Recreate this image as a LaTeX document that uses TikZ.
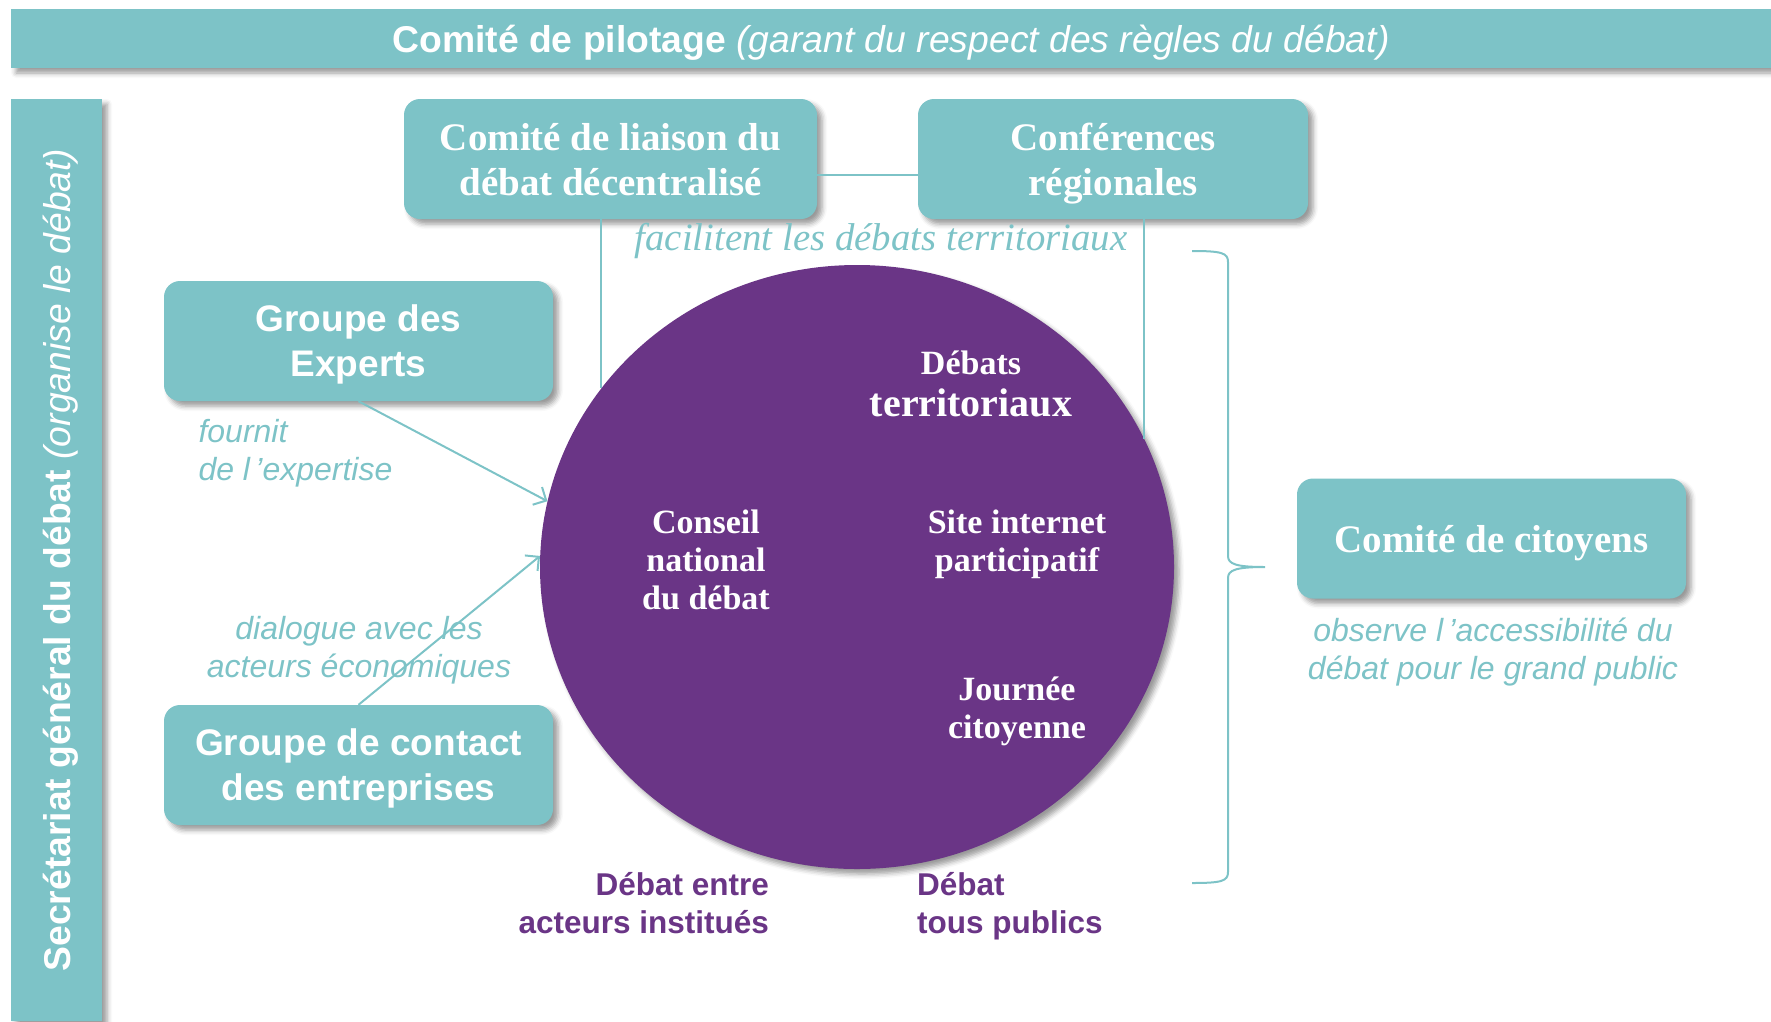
\documentclass[tikz,border=0pt]{standalone}
\usepackage{fontspec}
\setmainfont{Liberation Serif}
\setsansfont{Liberation Sans}
\usetikzlibrary{shapes.geometric,arrows.meta,shadows.blur}
\definecolor{cteal}{HTML}{7DC3C7}
\definecolor{cpurple}{HTML}{6A3586}
\tikzset{%
  shade/.style={blur shadow={shadow xshift=5pt, shadow yshift=-5pt, shadow blur radius=5pt, shadow opacity=40}},
  bar/.style={rectangle, fill=cteal, text=white, inner sep=0pt, text depth=-2pt, shade,
    font=\sffamily\fontsize{37.3}{45}\selectfont},
  box/.style={rectangle, rounded corners=16pt, fill=cteal, text=white, align=center,
    minimum width=389pt, minimum height=120pt, inner sep=0pt, text depth=-2pt, shade},
  serifbox/.style={box, font=\bfseries\fontsize{39}{45}\selectfont},
  sansbox/.style={box, font=\sffamily\bfseries\fontsize{37}{45}\selectfont},
  inner/.style={text=white, align=center, font=\bfseries\fontsize{34}{38}\selectfont},
  note/.style={text=cteal, align=center, font=\sffamily\itshape\fontsize{32}{38}\selectfont},
  public/.style={text=cpurple, font=\sffamily\bfseries\fontsize{31.5}{38}\selectfont},
  link/.style={draw=cteal, line width=2pt},
}
\begin{document}
\begin{tikzpicture}[x=1pt, y=-1pt]
  \useasboundingbox (0,0) rectangle (1771,1021);
  % bandeaux
  \node[bar, minimum width=1760pt, minimum height=59pt] (pilotage) at (891,38.5)
    {\textbf{Comité de pilotage} \textit{(garant du respect des règles du débat)}};
  \node[bar, rotate=90, minimum width=922pt, minimum height=91pt] (secretariat) at (56.5,560)
    {\textbf{Secrétariat général du débat} \textit{(organise le débat)}};
  % cercle central
  \node[ellipse, fill=cpurple, minimum width=634pt, minimum height=604pt, inner sep=0pt, shade] (debat) at (857,567) {};
  \node[inner] (territ) at (971,384) {Débats\\[4pt]{\fontsize{40}{42}\selectfont territoriaux}};
  \node[inner] (conseil) at (706,560) {Conseil\\national\\du débat};
  \node[inner] (site) at (1017,544.5) {Site internet\\participatif};
  \node[inner] (journee) at (1017,711.5) {Journée\\citoyenne};
  % boites
  \node[serifbox, minimum width=413pt] (liaison) at (610.5,159) {Comité de liaison du\\débat décentralisé};
  \node[serifbox, minimum width=390pt] (regions) at (1113,159) {Conférences\\régionales};
  \node[sansbox] (experts) at (358.5,341) {Groupe des\\Experts};
  \node[sansbox] (contact) at (358.5,765) {Groupe de contact\\des entreprises};
  \node[serifbox] (citoyens) at (1491.5,538.5) {Comité de citoyens};
  % liens
  \draw[link] ([yshift=-16pt]liaison.east) -- ([yshift=-16pt]regions.west);
  \draw[link] (liaison.south -| debat.145) -- (debat.145);
  \draw[link] (regions.south -| debat.24) -- (debat.24);
  \draw[link, -{Straight Barb[length=10pt, width=20pt]}] (experts.south) -- (debat.168);
  \draw[link, -{Straight Barb[length=10pt, width=20pt]}] (contact.north) -- (debat.178);
  % accolade
  \coordinate (bhaut) at (1192,251);
  \coordinate (bpointe) at (1265,567);
  \coordinate (bbas) at (1192,883);
  \draw[link] (bhaut) .. controls (1222,251) and (1228,253) .. (1228,262) -- (1228,556)
    .. controls (1228,564) and (1236,567) .. (bpointe)
    .. controls (1236,567) and (1228,570) .. (1228,578) -- (1228,872)
    .. controls (1228,881) and (1222,883) .. (bbas);
  % textes
  \node[text=cteal, font=\itshape\fontsize{38.8}{42}\selectfont] (facil) at (881,241) {facilitent les débats territoriaux};
  \node[note, anchor=west, align=left] (fournit) at (195,453.5) {fournit\\de l\,’expertise};
  \node[note] (dialogue) at (359,650.5) {dialogue avec les\\acteurs économiques};
  \node[note] (observe) at (1493,652.5) {observe l\,’accessibilité du\\débat pour le grand public};
  \node[public, anchor=east, align=right] (institues) at (772.5,903) {Débat entre\\acteurs institués};
  \node[public, anchor=west, align=left] (publics) at (913.5,906.5) {Débat\\tous publics};
\end{tikzpicture}
\end{document}
